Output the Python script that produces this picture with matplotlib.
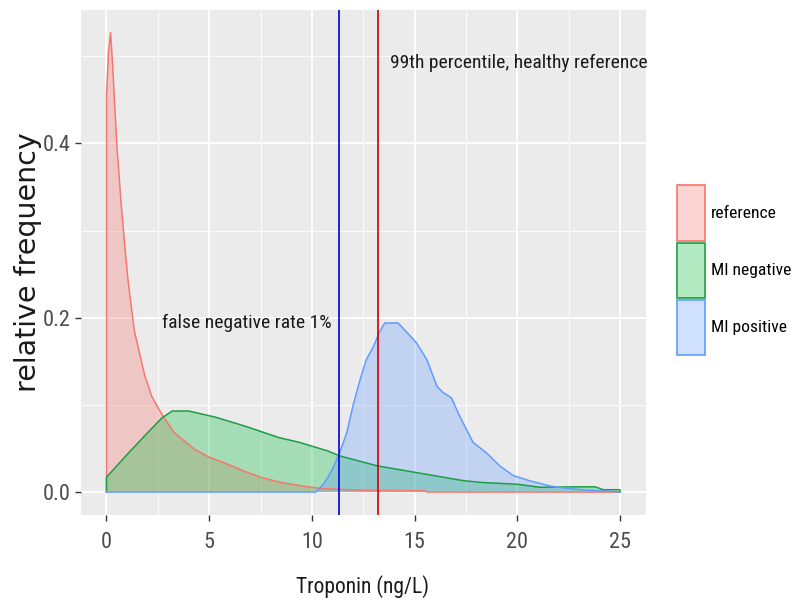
import matplotlib
matplotlib.use("Agg")
import matplotlib.pyplot as plt
from matplotlib import font_manager
from matplotlib.patches import Patch
from matplotlib.colors import to_rgba
from matplotlib.ticker import MultipleLocator, FormatStrFormatter

# density curves read at their break points (troponin ng/L, relative frequency)
ref_x = [0, 0.1, 0.2, 0.3, 0.5, 0.7, 0.9, 1.05, 1.35, 1.85, 2.2, 2.65, 3.3, 4.3,
         5.0, 5.9, 6.7, 7.5, 8.5, 9.5, 10.5, 11.5, 12.5, 15.5, 15.6, 25]
ref_y = [0.455, 0.505, 0.527, 0.49, 0.40, 0.335, 0.28, 0.243, 0.186, 0.135, 0.11,
         0.091, 0.068, 0.049, 0.04, 0.032, 0.024, 0.017, 0.011, 0.007, 0.004,
         0.003, 0.002, 0.0015, 0, 0]

neg_x = [0, 0.5, 1.0, 1.4, 2.0, 2.7, 3.2, 4.0, 5.3, 6.7, 8.4, 9.4, 10.8, 11.35,
         13.2, 15.3, 17.4, 18.3, 20.0, 21.1, 22.7, 23.8, 24.2, 25]
neg_y = [0.017, 0.03, 0.043, 0.053, 0.068, 0.085, 0.093, 0.093, 0.086, 0.076,
         0.0625, 0.057, 0.047, 0.0415, 0.030, 0.0215, 0.013, 0.011, 0.009,
         0.0055, 0.006, 0.006, 0.0027, 0.0027]

pos_x = [0, 10.2, 10.6, 11.0, 11.35, 11.7, 12.0, 12.35, 12.65, 13.0, 13.3, 13.55,
         14.2, 14.6, 15.1, 15.6, 16.1, 16.4, 16.8, 17.2, 17.85, 18.5, 19.15,
         19.8, 20.6, 21.6, 22.5, 23.5, 24.5, 25]
pos_y = [0, 0, 0.01, 0.026, 0.045, 0.068, 0.099, 0.129, 0.152, 0.167, 0.184,
         0.194, 0.194, 0.184, 0.171, 0.152, 0.121, 0.114, 0.108, 0.087, 0.057,
         0.045, 0.030, 0.019, 0.013, 0.007, 0.004, 0.002, 0.001, 0]

groups = ["reference", "MI negative", "MI positive"]
colors = ["#F8766D", "#00BA38", "#619CFF"]
edges = ["#F8766D", "#1E9E45", "#619CFF"]

fn_cutoff = 11.3     # false negative rate 1%
ref_99th = 13.2      # 99th percentile of healthy reference

# narrowest sans family that is installed
installed = {f.name for f in font_manager.fontManager.ttflist}
narrow = "Liberation Sans"
for cand in ["Liberation Sans Narrow", "Roboto Condensed", "DejaVu Sans Condensed"]:
    if cand in installed:
        narrow = cand
        break

fig = plt.figure(figsize=(8, 6.11), dpi=100)
ax = fig.add_axes([0.101, 0.157, 0.706, 0.827])
ax.set_facecolor("#EBEBEB")
for s in ax.spines.values():
    s.set_visible(False)

curves = [(ref_x, ref_y), (neg_x, neg_y), (pos_x, pos_y)]
for (xs, ys), c, e in zip(curves, colors, edges):
    px = [xs[0]] + list(xs) + [xs[-1]]
    py = [0] + list(ys) + [0]
    ax.fill(px, py, facecolor=c, alpha=0.3, edgecolor="none", zorder=2)
    ax.plot(px, py, color=e, lw=1.1, zorder=3)

ax.axvline(fn_cutoff, color="#0000DD", lw=1.2, zorder=4)
ax.axvline(ref_99th, color="#D00000", lw=1.2, zorder=4)

ax.text(13.8, 0.4926, "99th percentile, healthy reference", family=narrow,
        fontsize=14, va="center", ha="left", color="#1A1A1A", zorder=5)
ax.text(2.7, 0.194, "false negative rate 1%", family=narrow,
        fontsize=14, va="center", ha="left", color="#1A1A1A", zorder=5)

ax.set_xlim(-1.25, 26.25)
ax.set_ylim(-0.0264, 0.5534)
ax.xaxis.set_major_locator(MultipleLocator(5))
ax.xaxis.set_minor_locator(MultipleLocator(2.5))
ax.yaxis.set_major_locator(MultipleLocator(0.2))
ax.yaxis.set_minor_locator(MultipleLocator(0.1))
ax.yaxis.set_major_formatter(FormatStrFormatter("%.1f"))
ax.grid(which="major", color="white", lw=1.3, zorder=0)
ax.grid(which="minor", color="white", lw=0.6, zorder=0)
ax.set_axisbelow(True)
ax.tick_params(which="major", length=4, width=1, color="#333333",
               labelcolor="#4D4D4D", labelsize=16)
ax.tick_params(axis="x", pad=8)
ax.tick_params(axis="y", pad=3)
ax.tick_params(which="minor", length=0)
for lab in ax.get_xticklabels() + ax.get_yticklabels():
    lab.set_family(narrow)

ax.set_xlabel("Troponin (ng/L)", family=narrow, fontsize=15.5, color="#1A1A1A")
ax.xaxis.set_label_coords(0.499, -0.118)
ax.set_ylabel("relative frequency", family="DejaVu Sans", fontsize=20.5,
              color="#1A1A1A", va="center")
ax.yaxis.set_label_coords(-0.093, 0.5)

handles = [Patch(facecolor=to_rgba(c, 0.3), edgecolor=e, lw=1.2)
           for c, e in zip(colors, edges)]
fig.legend(handles, groups, loc="upper left", bbox_to_anchor=(0.838, 0.708),
           borderaxespad=0, frameon=False, handlelength=1.6, handleheight=4.5,
           handletextpad=0.3, labelspacing=0.1,
           prop={"family": narrow, "size": 12.6})

fig.savefig("out.png", dpi=100)
